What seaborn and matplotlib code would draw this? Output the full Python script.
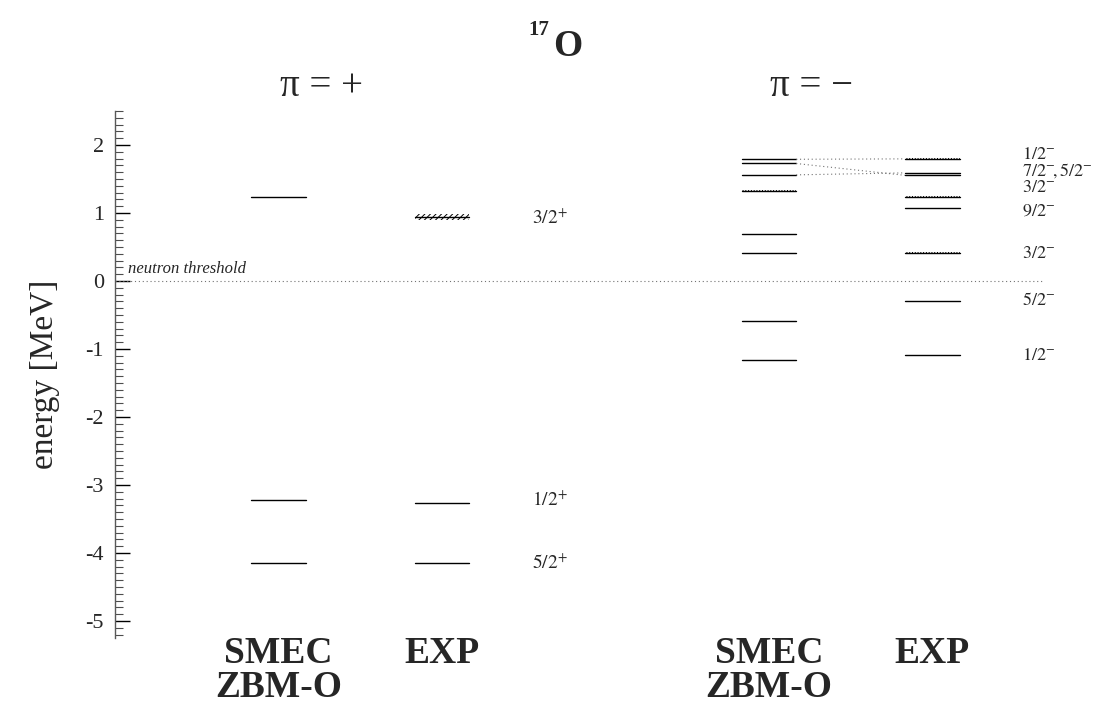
import numpy as np
import pandas as pd
import matplotlib
matplotlib.use("Agg")
import matplotlib.pyplot as plt
from matplotlib.ticker import MultipleLocator
import seaborn as sns

# 17O levels relative to the neutron threshold [MeV]
pos_smec = [1.233, -3.226, -4.143]
pos_exp = [0.942, -3.272, -4.143]
pos_exp_width = [0.08, 0.0, 0.0]
pos_smec_width = [0.0, 0.0, 0.0]
pos_labels = ["3/2^{+}", "1/2^{+}", "5/2^{+}"]

neg_smec = [1.790, 1.728, 1.561, 1.322, 0.686, 0.407, -0.587, -1.165]
neg_smec_width = [0.0, 0.02, 0.0, 0.04, 0.0, 0.015, 0.0, 0.0]
neg_exp = [1.796, 1.590, 1.554, 1.237, 1.073, 0.411, -0.300, -1.088]
neg_exp_width = [0.03, 0.0, 0.0, 0.03, 0.0, 0.04, 0.0, 0.0]
neg_labels = ["1/2^{-}", "7/2^{-}\\!,5/2^{-}", "3/2^{-}", "9/2^{-}", "3/2^{-}", "5/2^{-}", "1/2^{-}"]

# SMEC -> EXP correspondences joined by dotted lines
links_smec = [1.790, 1.728, 1.561]
links_exp = [1.796, 1.554, 1.590]

column_names = ["SMEC\nZBM-O", "EXP", "SMEC\nZBM-O", "EXP"]

# layout
col_x = [0.0, 1.0, 3.0, 4.0]
col_hatch = ["//////", "//////", "||||||", "||||||"]
half = 0.167
label_x = [1.55, 4.55]
pos_label_y = [0.93, -3.22, -4.15]
neg_label_y = [1.86, 1.62, 1.38, 1.03, 0.41, -0.29, -1.09]

sns.set_theme(style="ticks")
plt.rcParams["font.family"] = ["Liberation Serif", "DejaVu Serif"]
plt.rcParams["mathtext.fontset"] = "stix"
plt.rcParams["axes.unicode_minus"] = False
plt.rcParams["hatch.linewidth"] = 0.7
plt.rcParams["hatch.color"] = "black"

fig = plt.figure(figsize=(10.99, 7.13), dpi=100)
ax = fig.add_axes([115 / 1099, 75 / 713, 984 / 1099, 527 / 713])

# level segments as long-form data
rows = []
lid = 0
for c, levels in zip(col_x, [pos_smec, pos_exp, neg_smec, neg_exp]):
    for e in levels:
        rows.append(dict(x=c - half, e=e, lid=lid))
        rows.append(dict(x=c + half, e=e, lid=lid))
        lid += 1
seg = pd.DataFrame(rows)
sns.lineplot(data=seg, x="x", y="e", units="lid", estimator=None, sort=False,
             color="black", lw=1.0, ax=ax, legend=False)

# resonance widths as hatched bands
for c, h, levels, widths in zip(col_x, col_hatch,
                                [pos_smec, pos_exp, neg_smec, neg_exp],
                                [pos_smec_width, pos_exp_width, neg_smec_width, neg_exp_width]):
    for e, w in zip(levels, widths):
        if w > 0:
            ax.bar(c, w, bottom=e - w / 2, width=2 * half, fill=False,
                   hatch=h, edgecolor="black", linewidth=0)

# dotted correspondence lines
lrows = []
for i, (a, b) in enumerate(zip(links_smec, links_exp)):
    lrows.append(dict(x=col_x[2] + half, e=a, lid=i))
    lrows.append(dict(x=col_x[3] - half, e=b, lid=i))
lk = pd.DataFrame(lrows)
sns.lineplot(data=lk, x="x", y="e", units="lid", estimator=None, sort=False,
             color="0.45", lw=0.8, ls=(0, (1, 2.5)), ax=ax, legend=False)

# neutron threshold
ax.plot([-1.0, 4.67], [0, 0], color="0.45", lw=0.8, ls=(0, (1, 2.5)))
ax.text(-0.92, 0.06, "neutron threshold", fontsize=12, style="italic",
        ha="left", va="bottom")

# spin labels
for t, y in zip(pos_labels, pos_label_y):
    ax.text(label_x[0], y, f"${t}$", fontsize=14, ha="left", va="center")
for t, y in zip(neg_labels, neg_label_y):
    ax.text(label_x[1], y, f"${t}$", fontsize=13, ha="left", va="center")

ax.set_xlim(-1.0, 5.02)
ax.set_ylim(-5.25, 2.5)
ax.set_xticks([])
ax.set_xlabel("")
ax.yaxis.set_major_locator(MultipleLocator(1))
ax.yaxis.set_minor_locator(MultipleLocator(0.1))
ax.tick_params(axis="y", which="major", direction="in", length=11, width=1.0,
               labelsize=16, pad=8, color="black")
ax.tick_params(axis="y", which="minor", direction="in", length=6, width=0.8,
               color="0.3")
ax.set_ylabel("energy [MeV]", fontsize=24, labelpad=18)
for s in ["top", "right", "bottom"]:
    ax.spines[s].set_visible(False)
ax.spines["left"].set_color("0.35")
ax.spines["left"].set_linewidth(1.0)

# column headers
for c, name in zip(col_x, column_names):
    xf = ax.transData.transform((c, 0))[0] / fig.bbox.width
    fig.text(xf, 1 - 636 / 713, name, fontsize=27, fontweight="bold",
             ha="center", va="top", linespacing=0.95)

# parity headers and title
fig.text(322 / 1099, 1 - 86 / 713, "π = +", fontsize=28, ha="center", va="center")
fig.text(812 / 1099, 1 - 86 / 713, "π = \u2212", fontsize=28, ha="center", va="center")
fig.text(553 / 1099, 1 - 56 / 713, "O", fontsize=27, fontweight="bold",
         ha="left", va="baseline")
fig.text(549 / 1099, 1 - 35 / 713, "17", fontsize=15, fontweight="bold",
         ha="right", va="baseline")

fig.savefig("out.png", dpi=100)
